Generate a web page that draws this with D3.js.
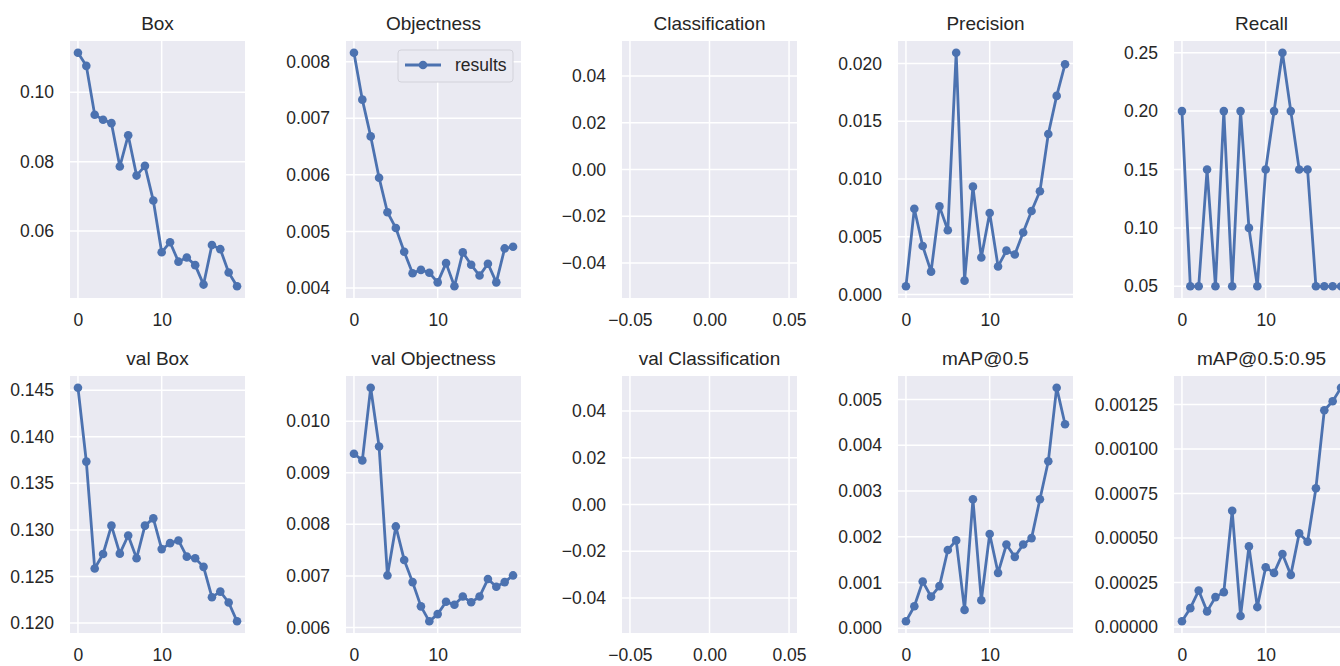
<!DOCTYPE html>
<html>
<head>
<meta charset="utf-8">
<script src="https://cdn.jsdelivr.net/npm/d3@7"></script>
<style>
  body { margin: 0; background: #fff; overflow: hidden; }
  svg { display: block; font-family: "Liberation Sans", Arial, sans-serif; }
</style>
</head>
<body>
<svg id="chart" width="1340" height="666"></svg>
<script>
//
// Training results grid: ten small panels, one line each
//

const epochs = [0, 1, 2, 3, 4, 5, 6, 7, 8, 9, 10, 11, 12, 13, 14, 15, 16, 17, 18, 19];

const titles = [
  "Box", "Objectness", "Classification", "Precision", "Recall",
  "val Box", "val Objectness", "val Classification", "mAP@0.5", "mAP@0.5:0.95"
];

const box = [0.1114, 0.1076, 0.0935, 0.0921, 0.0911, 0.0786, 0.0876, 0.076, 0.0788, 0.0688,
  0.0539, 0.0568, 0.0512, 0.0524, 0.0502, 0.0446, 0.056, 0.0548, 0.0481, 0.0441];
const objectness = [0.00816, 0.00733, 0.00668, 0.00595, 0.00534, 0.00506, 0.00464, 0.00426, 0.00432, 0.00427,
  0.0041, 0.00444, 0.00403, 0.00463, 0.00441, 0.00422, 0.00443, 0.0041, 0.0047, 0.00473];
const classification = [];
const precision = [0.00071, 0.00743, 0.0042, 0.00198, 0.00763, 0.00557, 0.02094, 0.0012, 0.00934, 0.0032,
  0.00706, 0.00243, 0.0038, 0.00346, 0.00537, 0.00723, 0.00894, 0.0139, 0.0172, 0.01994];
const recall = [0.2, 0.05, 0.05, 0.15, 0.05, 0.2, 0.05, 0.2, 0.1, 0.05,
  0.15, 0.2, 0.25, 0.2, 0.15, 0.15, 0.05, 0.05, 0.05, 0.05];
const valBox = [0.14528, 0.13734, 0.12585, 0.12741, 0.13046, 0.12745, 0.1294, 0.12695, 0.13046, 0.13124,
  0.12794, 0.12858, 0.12887, 0.12713, 0.12695, 0.12603, 0.12277, 0.12337, 0.1222, 0.12018];
const valObjectness = [0.00937, 0.00924, 0.01065, 0.00951, 0.00701, 0.00796, 0.00731, 0.00688, 0.00641, 0.00612,
  0.00626, 0.0065, 0.00644, 0.0066, 0.00649, 0.0066, 0.00694, 0.00679, 0.00688, 0.00701];
const valClassification = [];
const map50 = [0.00015, 0.00048, 0.00102, 0.00069, 0.00092, 0.00171, 0.00192, 0.0004, 0.00282, 0.00061,
  0.00206, 0.00121, 0.00183, 0.00156, 0.00183, 0.00197, 0.00282, 0.00365, 0.00526, 0.00446];
const map5095 = [0.000032, 0.000106, 0.000205, 0.000088, 0.000168, 0.000196, 0.000653, 0.000062, 0.000453, 0.000112,
  0.000336, 0.000304, 0.00041, 0.000293, 0.000526, 0.000479, 0.00078, 0.001218, 0.001269, 0.001345];

// tick values shown on each panel
const epochTicks = [0, 10];
const emptyTicks = [-0.05, 0.0, 0.05];
const boxTicks = [0.06, 0.08, 0.1];
const objectnessTicks = [0.004, 0.005, 0.006, 0.007, 0.008];
const emptyYTicks = [-0.04, -0.02, 0.0, 0.02, 0.04];
const precisionTicks = [0.0, 0.005, 0.01, 0.015, 0.02];
const recallTicks = [0.05, 0.1, 0.15, 0.2, 0.25];
const valBoxTicks = [0.12, 0.125, 0.13, 0.135, 0.14, 0.145];
const valObjectnessTicks = [0.006, 0.007, 0.008, 0.009, 0.01];
const map50Ticks = [0.0, 0.001, 0.002, 0.003, 0.004, 0.005];
const map5095Ticks = [0.0, 0.00025, 0.0005, 0.00075, 0.001, 0.00125];

const series = [box, objectness, classification, precision, recall,
  valBox, valObjectness, valClassification, map50, map5095];
const yTickSets = [boxTicks, objectnessTicks, emptyYTicks, precisionTicks, recallTicks,
  valBoxTicks, valObjectnessTicks, emptyYTicks, map50Ticks, map5095Ticks];
const yFormats = [".2f", ".3f", ".2f", ".3f", ".2f", ".3f", ".3f", ".2f", ".3f", ".5f"];

/* layout */
const PLOT_W = 175;
const PLOT_H = 257;
const COL_LEFT = 70;
const COL_STEP = 276;
const ROW_TOP = [41, 376];
const BG = "#eaeaf2";
const LINE = "#4c72b0";
const TEXT = "#262626";

const svg = d3.select("#chart");

series.forEach((values, i) => {
  drawPanel({
    svg,
    values,
    title: titles[i],
    yTicks: yTickSets[i],
    yFormat: yFormats[i],
    left: COL_LEFT + (i % 5) * COL_STEP,
    top: ROW_TOP[Math.floor(i / 5)],
    legend: i === 1
  });
});

// matplotlib style limits: data extent with 5% margin, or +-0.055 when empty
function padded(extent) {
  if (extent[0] === undefined) return [-0.055, 0.055];
  const pad = (extent[1] - extent[0]) * 0.05;
  return [extent[0] - pad, extent[1] + pad];
}

function drawPanel({ svg, values, title, yTicks, yFormat, left, top, legend }) {
  const g = svg.append("g").attr("transform", `translate(${left},${top})`);
  const empty = values.length === 0;
  const xs = empty ? [] : epochs.slice(0, values.length);

  const xScale = d3.scaleLinear().domain(padded(d3.extent(xs))).range([0, PLOT_W]);
  const yScale = d3.scaleLinear().domain(padded(d3.extent(values))).range([PLOT_H, 0]);
  const xTicks = empty ? emptyTicks : epochTicks;

  g.append("rect").attr("width", PLOT_W).attr("height", PLOT_H).attr("fill", BG);

  // white grid
  g.selectAll(".hgrid")
    .data(yTicks)
    .join("line")
    .attr("x1", 0)
    .attr("x2", PLOT_W)
    .attr("y1", d => yScale(d))
    .attr("y2", d => yScale(d))
    .attr("stroke", "#fff")
    .attr("stroke-width", 1.5);
  g.selectAll(".vgrid")
    .data(xTicks)
    .join("line")
    .attr("y1", 0)
    .attr("y2", PLOT_H)
    .attr("x1", d => xScale(d))
    .attr("x2", d => xScale(d))
    .attr("stroke", "#fff")
    .attr("stroke-width", 1.5);

  const yAxis = d3.axisLeft(yScale)
    .tickValues(yTicks)
    .tickFormat(d3.format(yFormat))
    .tickSize(0)
    .tickPadding(16);
  const xAxis = d3.axisBottom(xScale)
    .tickValues(xTicks)
    .tickFormat(empty ? d3.format(".2f") : d3.format("d"))
    .tickSize(0)
    .tickPadding(16);

  g.append("g").call(yAxis).call(styleAxis);
  g.append("g").attr("transform", `translate(0,${PLOT_H})`).call(xAxis).call(styleAxis);

  g.append("text")
    .attr("x", PLOT_W / 2)
    .attr("y", -11)
    .attr("text-anchor", "middle")
    .attr("font-size", 19)
    .attr("fill", TEXT)
    .text(title);

  if (!empty) {
    const line = d3.line()
      .x((d, j) => xScale(xs[j]))
      .y(d => yScale(d));
    g.append("path")
      .datum(values)
      .attr("d", line)
      .attr("fill", "none")
      .attr("stroke", LINE)
      .attr("stroke-width", 2.8)
      .attr("stroke-linejoin", "round");
    g.selectAll(".dot")
      .data(values)
      .join("circle")
      .attr("cx", (d, j) => xScale(xs[j]))
      .attr("cy", d => yScale(d))
      .attr("r", 4.3)
      .attr("fill", LINE);
  }

  if (legend) drawLegend(g);
}

function styleAxis(axis) {
  axis.select(".domain").remove();
  axis.attr("font-size", 17.5)
    .attr("font-family", null)
    .attr("color", TEXT);
}

function drawLegend(g) {
  const lg = g.append("g").attr("transform", "translate(52,9)");
  lg.append("rect")
    .attr("width", 115)
    .attr("height", 32)
    .attr("rx", 3)
    .attr("fill", BG)
    .attr("stroke", "#d2d2da");
  lg.append("line")
    .attr("x1", 7).attr("x2", 43)
    .attr("y1", 15).attr("y2", 15)
    .attr("stroke", LINE)
    .attr("stroke-width", 2.8);
  lg.append("circle").attr("cx", 25).attr("cy", 15).attr("r", 4.3).attr("fill", LINE);
  lg.append("text")
    .attr("x", 57)
    .attr("y", 21)
    .attr("font-size", 17.5)
    .attr("fill", TEXT)
    .text("results");
}
</script>
</body>
</html>
